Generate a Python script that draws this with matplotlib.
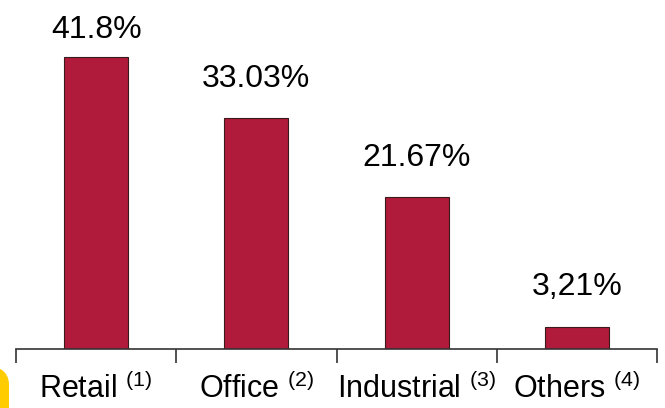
import matplotlib
matplotlib.use("Agg")
import matplotlib.pyplot as plt
from matplotlib.patches import FancyBboxPatch

# data
categories = ["Retail", "Office", "Industrial", "Others"]
notes = ["(1)", "(2)", "(3)", "(4)"]
values = [41.8, 33.03, 21.67, 3.21]
value_labels = ["41.8%", "33.03%", "21.67%", "3,21%"]

plt.rcParams['font.family'] = ['Liberation Sans', 'DejaVu Sans']
plt.rcParams['mathtext.fontset'] = 'custom'
plt.rcParams['mathtext.rm'] = 'Liberation Sans'

fig = plt.figure(figsize=(6.65, 4.08), dpi=100)
ax = fig.add_axes([16 / 665, 59 / 408, 641 / 665, 0.857])

x = list(range(len(categories)))
ax.bar(x, values, width=0.4, color='#B01B3B', edgecolor='#3a1a1a', linewidth=0.8)

ax.set_xlim(-0.5, len(categories) - 0.5)
ax.set_ylim(0, 50)

for xi, v, lab in zip(x, values, value_labels):
    ax.text(xi, min(v + 4.5, 44.5), lab, ha='center', va='baseline', fontsize=23)

ax.set_xticks(x)
ax.set_xticklabels([c + r' $^{\mathregular{' + n + '}}$' for c, n in zip(categories, notes)],
                   fontsize=22)
ax.set_xticks([i - 0.5 for i in range(len(categories) + 1)], minor=True)
ax.tick_params(axis='x', which='major', length=0, pad=17)
ax.tick_params(axis='x', which='minor', length=10, width=1.2, color='#333333', direction='out')

ax.set_yticks([])
for s in ['left', 'top', 'right']:
    ax.spines[s].set_visible(False)
ax.spines['bottom'].set_linewidth(1.2)
ax.spines['bottom'].set_color('#333333')

# yellow decoration at bottom-left corner
deco = FancyBboxPatch((-30 / 665, -40 / 408), 39 / 665, 84 / 408,
                      boxstyle="round,pad=0,rounding_size=0.05",
                      transform=fig.transFigure, facecolor='#FFCC00', edgecolor='none')
fig.patches.append(deco)

fig.savefig("out.png", dpi=100)
